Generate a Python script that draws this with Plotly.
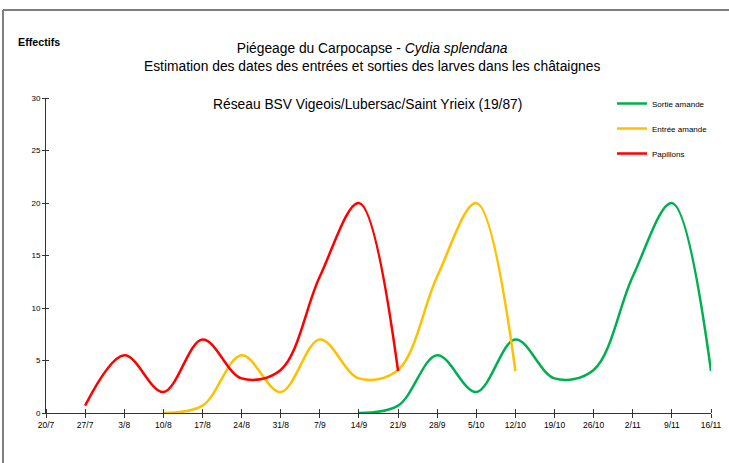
import plotly.graph_objects as go

dates = ["20/7", "27/7", "3/8", "10/8", "17/8", "24/8", "31/8", "7/9", "14/9",
         "21/9", "28/9", "5/10", "12/10", "19/10", "26/10", "2/11", "9/11", "16/11"]

papillons_idx = [1, 2, 3, 4, 5, 6, 7, 8, 9]
papillons = [0.7, 5.5, 2.0, 7.0, 3.3, 4.1, 13.0, 20.0, 4.0]

entree_idx = [3, 4, 5, 6, 7, 8, 9, 10, 11, 12]
entree = [0.0, 0.7, 5.5, 2.0, 7.0, 3.3, 4.1, 13.0, 20.0, 4.0]

sortie_idx = [8, 9, 10, 11, 12, 13, 14, 15, 16, 17]
sortie = [0.0, 0.7, 5.5, 2.0, 7.0, 3.3, 4.1, 13.0, 20.0, 4.0]

W, H = 729, 463
L, R, T, B = 46, 18, 98, 50
pw, ph = W - L - R, H - T - B


def px(x):
    return (x - L) / pw


def py(y):
    return (H - B - y) / ph


FONT = "Liberation Sans, Arial, sans-serif"

fig = go.Figure()
series = [
    ("Sortie amande", sortie_idx, sortie, "#00B050"),
    ("Entrée amande", entree_idx, entree, "#FFC000"),
    ("Papillons", papillons_idx, papillons, "#FF0000"),
]
for i, (name, xs, ys, col) in enumerate(series):
    fig.add_trace(go.Scatter(
        x=xs, y=ys, name=name, mode="lines",
        line=dict(color=col, width=2.5, shape="spline", smoothing=1.0),
        legendgroup=f"g{i}",
    ))

fig.update_layout(
    width=W, height=H,
    margin=dict(l=L, r=R, t=T, b=B, autoexpand=False),
    paper_bgcolor="white", plot_bgcolor="white",
    font=dict(family=FONT, color="#000000"),
    showlegend=True,
    legend=dict(
        xref="container", yref="container",
        x=612 / W, y=1 - 89 / H, xanchor="left", yanchor="top",
        font=dict(size=8, family=FONT),
        traceorder="grouped", tracegroupgap=6,
        bgcolor="rgba(0,0,0,0)",
    ),
    xaxis=dict(
        range=[0, 17], tickmode="array", tickvals=list(range(len(dates))), ticktext=dates,
        showgrid=False, zeroline=False, showline=True, linecolor="#333333", linewidth=1,
        ticks="outside", ticklen=4, tickcolor="#333333",
        minor=dict(tickmode="array", tickvals=list(range(len(dates))), ticks="inside",
                   ticklen=4, tickcolor="#333333", showgrid=False),
        tickfont=dict(size=8.5, family=FONT), fixedrange=True,
    ),
    yaxis=dict(
        range=[0, 30], dtick=5, tick0=0,
        showgrid=False, zeroline=False, showline=True, linecolor="#333333", linewidth=1,
        ticks="outside", ticklen=3, tickcolor="#333333",
        minor=dict(tickmode="array", tickvals=[0, 5, 10, 15, 20, 25, 30], ticks="inside",
                   ticklen=3, tickcolor="#333333", showgrid=False),
        tickfont=dict(size=8, family=FONT), fixedrange=True,
    ),
    annotations=[
        dict(text="Piégeage du Carpocapse - <i>Cydia splendana</i><br>"
                  "Estimation des dates des entrées et sorties des larves dans les châtaignes",
             xref="paper", yref="paper", x=px(372), y=py(57), xanchor="center", yanchor="middle",
             showarrow=False, font=dict(size=13.8, family=FONT)),
        dict(text="Réseau BSV Vigeois/Lubersac/Saint Yrieix (19/87)",
             xref="paper", yref="paper", x=px(367), y=py(104), xanchor="center", yanchor="middle",
             showarrow=False, font=dict(size=13.8, family=FONT)),
        dict(text="<b>Effectifs</b>",
             xref="paper", yref="paper", x=px(16), y=py(42), xanchor="left", yanchor="middle",
             showarrow=False, font=dict(size=10.7, family=FONT)),
    ],
    shapes=[
        dict(type="line", xref="paper", yref="paper", x0=px(3), x1=px(740), y0=py(10), y1=py(10),
             line=dict(color="#7f7f7f", width=2)),
        dict(type="line", xref="paper", yref="paper", x0=px(3), x1=px(3), y0=py(10), y1=py(480),
             line=dict(color="#7f7f7f", width=2)),
    ],
)

fig.write_html("out.html", config={"displayModeBar": False},
               post_script="document.body.style.margin='0';")
